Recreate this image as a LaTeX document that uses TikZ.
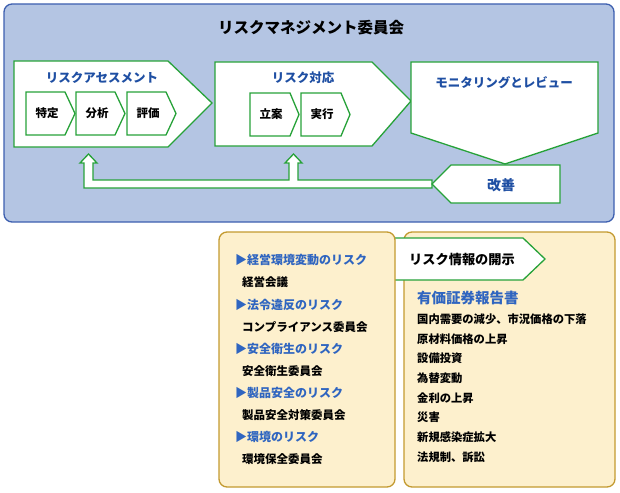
\documentclass[tikz,border=0pt]{standalone}
\usepackage{fontspec}
\setmainfont{Noto Sans CJK JP}
\definecolor{boardfill}{HTML}{B4C5E3}
\definecolor{boardline}{HTML}{3D5FAF}
\definecolor{flowgreen}{HTML}{27A239}
\definecolor{headblue}{HTML}{1F4FA3}
\definecolor{itemblue}{HTML}{2F65C0}
\definecolor{tanfill}{HTML}{FDF0CD}
\definecolor{tanline}{HTML}{C39A30}
\newcommand{\jpsize}[1]{\fontsize{#1}{#1}\selectfont\bfseries}

\begin{document}
\begin{tikzpicture}[x=1pt, y=-1pt,
	flowbox/.style={draw=flowgreen, fill=white, line width=1.3pt},
	tanbox/.style={draw=tanline, fill=tanfill, line width=1.3pt, rounded corners=8pt},
	head/.style={text=headblue, font=\jpsize{12.5}, inner sep=0pt},
	sublabel/.style={font=\jpsize{11.5}, inner sep=0pt},
	riskitem/.style={anchor=west, text=itemblue, font=\jpsize{12}, inner sep=0pt},
	owner/.style={anchor=west, font=\jpsize{11.5}, inner sep=0pt},
	factor/.style={anchor=west, font=\jpsize{11.3}, inner sep=0pt}]
	\useasboundingbox (0,0) rectangle (620,492);

	% committee board
	\draw[fill=boardfill, draw=boardline, line width=1.3pt, rounded corners=8pt]
		(4,4) rectangle (614,222);
	\node[font=\jpsize{15.5}, inner sep=0pt] (board) at (311,28) {リスクマネジメント委員会};

	% process chevrons
	\draw[flowbox] (14,61) -- (168,61) -- (212,103) -- (168,147) -- (14,147) -- cycle;
	\draw[flowbox] (215,62) -- (372,62) -- (411,101) -- (372,146) -- (215,146) -- cycle;
	\draw[flowbox] (411,62) -- (598,62) -- (598,133) -- (505,164) -- (411,133) -- cycle;
	\node[head] (assess) at (102,78) {リスクアセスメント};
	\node[head] (respond) at (303,78) {リスク対応};
	\node[head] (monitor) at (504,83) {モニタリングとレビュー};

	\foreach \x/\t [count=\i] in {26/特定, 76/分析, 127/評価} {
		\draw[flowbox] (\x,92) -- (\x+39,92) -- (\x+49,113.5) -- (\x+39,135) -- (\x,135) -- cycle;
		\node[sublabel] (step\i) at (\x+21,113.5) {\t};
	}
	\foreach \x/\t [count=\i] in {250/立案, 301/実行} {
		\draw[flowbox] (\x,93) -- (\x+40,93) -- (\x+49,114.5) -- (\x+40,136) -- (\x,136) -- cycle;
		\node[sublabel] (act\i) at (\x+21,114.5) {\t};
	}

	% feedback
	\draw[flowbox] (432,180) -- (298,180) -- (298,163) -- (302,163) -- (293.5,154)
		-- (285,163) -- (289,163) -- (289,180) -- (93,180) -- (93,163) -- (97,163)
		-- (88.5,154) -- (80,163) -- (84,163) -- (84,188) -- (432,188) -- cycle;
	\draw[flowbox] (451,165) -- (560,165) -- (560,203) -- (451,203) -- (432,184) -- cycle;
	\node[head, font=\jpsize{14}] (improve) at (501,185) {改善};

	% disclosure
	\draw[tanbox] (404,232) rectangle (615,487);
	\fill[white] (395,238) -- (523,238) -- (545,259) -- (523,280) -- (395,280) -- cycle;
	\draw[draw=flowgreen, line width=1.3pt] (395,238) -- (523,238) -- (545,259) -- (523,280) -- (395,280);
	\draw[tanbox] (219,232) rectangle (395,487);
	\node[font=\jpsize{13.2}, inner sep=0pt] (disclose) at (462,259) {リスク情報の開示};

	\foreach \y/\r/\c [count=\i] in {260/経営環境変動のリスク/経営会議,
			305/法令違反のリスク/コンプライアンス委員会,
			349/安全衛生のリスク/安全衛生委員会,
			393/製品安全のリスク/製品安全対策委員会,
			437/環境のリスク/環境保全委員会} {
		\node[riskitem] (risk\i) at (235,\y) {▶\r};
		\node[owner] (owner\i) at (242,\y+22) {\c};
	}

	\node[riskitem, font=\jpsize{14.5}] (report) at (417,298) {有価証券報告書};
	\foreach \t [count=\i] in {国内需要の減少、市況価格の下落, 原材料価格の上昇, 設備投資,
			為替変動, 金利の上昇, 災害, 新規感染症拡大, 法規制、訴訟}
		\node[factor] (factor\i) at (417,299.5+19.7*\i) {\t};
\end{tikzpicture}
\end{document}
